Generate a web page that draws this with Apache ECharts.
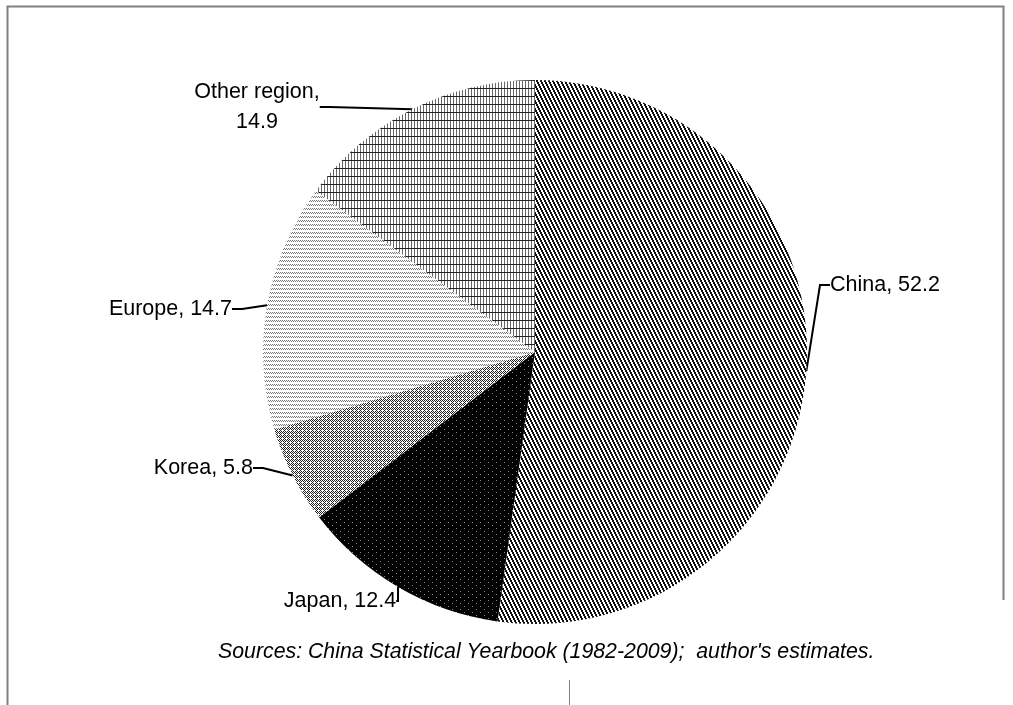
<!DOCTYPE html>
<html>
<head>
<meta charset="utf-8">
<script src="https://cdn.jsdelivr.net/npm/echarts@6/dist/echarts.min.js"></script>
<style>
  html, body { margin: 0; padding: 0; background: #fff; }
  #chart { width: 1013px; height: 705px; }
</style>
</head>
<body>
<div id="chart"></div>
<script>
// Regional shares (%)
const regions = ['China', 'Japan', 'Korea', 'Europe', 'Other region'];
const shares = [52.2, 12.4, 5.8, 14.7, 14.9];
const sourceNote = "Sources: China Statistical Yearbook (1982-2009);  author's estimates.";

// Pixel-tile fill patterns, one per slice
function makeTile(w, h, fn, bg) {
  const c = document.createElement('canvas');
  c.width = w; c.height = h;
  const ctx = c.getContext('2d');
  ctx.fillStyle = bg || '#ffffff';
  ctx.fillRect(0, 0, w, h);
  for (let y = 0; y < h; y++) {
    for (let x = 0; x < w; x++) {
      const col = fn(x, y);
      if (col) { ctx.fillStyle = col; ctx.fillRect(x, y, 1, 1); }
    }
  }
  return { image: c, repeat: 'repeat' };
}

const patterns = [
  // steep dark diagonal stripes
  makeTile(4, 8, (x, y) => (((x - Math.floor(y / 2)) % 4 + 4) % 4) < 2 ? '#111' : null),
  // black with sparse gray dots
  makeTile(8, 6, (x, y) => ((x === 0 && y === 0) || (x === 4 && y === 3)) ? '#8a8a8a' : null, '#000'),
  // fine checker with open diamonds
  makeTile(4, 4, (x, y) => ((x + y) % 2 === 0 && !(x === 2 && y === 2)) ? '#222' : null),
  // light zigzag rows
  makeTile(4, 4, (x, y) => (y === 0 && x % 2 === 0) || (y === 1 && x % 2 === 1) ? '#777' : null),
  // thin vertical grid with horizontal rules
  makeTile(3, 8, (x, y) => y === 0 ? '#222' : (x === 0 ? '#666' : null))
];

// Label anchor points
const labelPos = [
  { x: 830, y: 285, align: 'left' },
  { x: 340, y: 601, align: 'center' },
  { x: 253, y: 468, align: 'right' },
  { x: 232, y: 309, align: 'right' },
  { x: 257, y: 107, align: 'center' }
];

const data = regions.map((name, i) => ({
  name: name,
  value: shares[i],
  itemStyle: { color: patterns[i] }
}));

const chart = echarts.init(document.getElementById('chart'), null, { renderer: 'canvas' });
chart.setOption({
  backgroundColor: '#ffffff',
  animation: false,
  graphic: [
    {
      type: 'polyline',
      shape: { points: [[7.5, 705], [7.5, 6.5], [1003.5, 6.5], [1003.5, 600]] },
      style: { stroke: '#808080', lineWidth: 2, fill: null }
    },
    {
      type: 'line',
      shape: { x1: 569.5, y1: 680, x2: 569.5, y2: 705 },
      style: { stroke: '#808080', lineWidth: 1 }
    },
    {
      type: 'text',
      left: 218,
      top: 642,
      style: {
        text: sourceNote,
        font: 'italic 21.3px "Liberation Sans", Arial, sans-serif',
        fill: '#000'
      }
    }
  ],
  series: [{
    type: 'pie',
    center: [535, 352],
    radius: [0, 272],
    startAngle: 90,
    clockwise: true,
    avoidLabelOverlap: false,
    data: data,
    itemStyle: { borderWidth: 0 },
    label: {
      show: true,
      formatter: p => p.name === 'Other region' ? 'Other region,\n' + p.value : p.name + ', ' + p.value,
      fontFamily: '"Liberation Sans", Arial, sans-serif',
      fontSize: 21.5,
      lineHeight: 30,
      color: '#000'
    },
    labelLine: {
      show: true,
      length: 20,
      length2: 10,
      lineStyle: { color: '#000', width: 2 }
    },
    labelLayout: function (params) {
      const p = labelPos[params.dataIndex];
      return { x: p.x, y: p.y, align: p.align, verticalAlign: 'middle' };
    }
  }]
});
</script>
</body>
</html>
